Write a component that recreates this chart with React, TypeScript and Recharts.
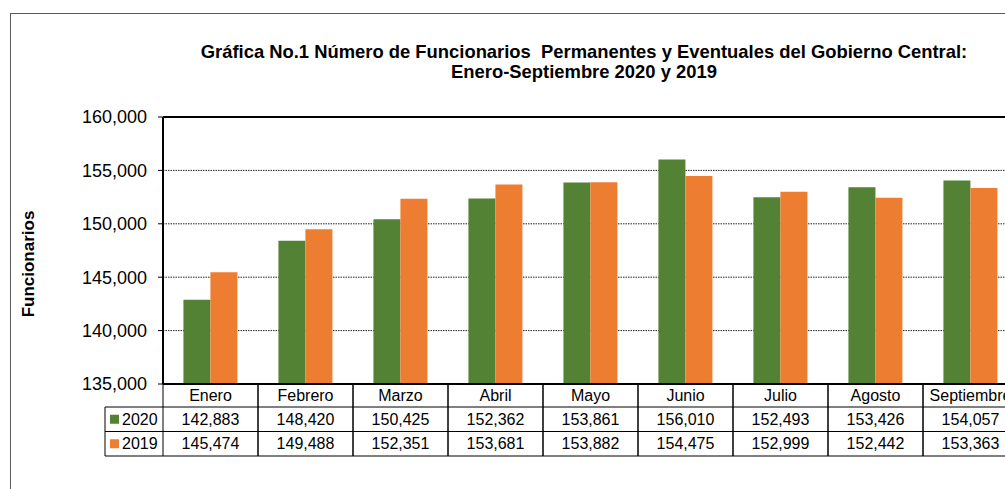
import { BarChart, Bar, XAxis, YAxis, CartesianGrid, ReferenceLine } from 'recharts';

const months = ['Enero', 'Febrero', 'Marzo', 'Abril', 'Mayo', 'Junio', 'Julio', 'Agosto', 'Septiembre'];
const values2020 = [142883, 148420, 150425, 152362, 153861, 156010, 152493, 153426, 154057];
const values2019 = [145474, 149488, 152351, 153681, 153882, 154475, 152999, 152442, 153363];
const yTicks = [135000, 140000, 145000, 150000, 155000, 160000];

const GREEN = '#548235';
const ORANGE = '#ED7D31';
const FONT = '"Liberation Sans", Arial, sans-serif';

const CHART_W = 1030;
const CHART_H = 489;
const Y_AXIS_W = 163;
const MARGIN = { top: 117, right: 12, bottom: 0, left: 0 };
const PLOT_W = CHART_W - MARGIN.left - MARGIN.right - Y_AXIS_W;

const data = months.map((m, i) => ({ month: m, y2020: values2020[i], y2019: values2019[i] }));

const fmt = (v: number) => v.toLocaleString('en-US');

function TableTick(props: any) {
  const { x, y, index } = props;
  const band = PLOT_W / months.length;
  const left = x - band / 2;
  const right = x + band / 2;
  const r0 = y;
  const r1 = r0 + 23;
  const r2 = r1 + 24.5;
  const r3 = r2 + 24.5;
  const line = { stroke: '#000', strokeWidth: 1 };
  const txt = { fontSize: 16, fill: '#000', fontFamily: FONT };
  const hdrLeft = left - 58;
  return (
    <g>
      {index === 0 && (
        <g>
          <line x1={hdrLeft} y1={r1} x2={left} y2={r1} {...line} />
          <line x1={hdrLeft} y1={r2} x2={left} y2={r2} {...line} />
          <line x1={hdrLeft} y1={r3} x2={left} y2={r3} {...line} />
          <line x1={hdrLeft} y1={r1} x2={hdrLeft} y2={r3} {...line} />
          <rect x={hdrLeft + 5} y={(r1 + r2) / 2 - 4.5} width={9} height={9} fill={GREEN} />
          <text x={hdrLeft + 17} y={(r1 + r2) / 2 + 5.7} {...txt}>2020</text>
          <rect x={hdrLeft + 5} y={(r2 + r3) / 2 - 4.5} width={9} height={9} fill={ORANGE} />
          <text x={hdrLeft + 17} y={(r2 + r3) / 2 + 5.7} {...txt}>2019</text>
        </g>
      )}
      <line x1={left} y1={r0} x2={left} y2={r3} {...line} />
      <line x1={right} y1={r0} x2={right} y2={r3} {...line} />
      <line x1={left} y1={r1} x2={right} y2={r1} {...line} />
      <line x1={left} y1={r2} x2={right} y2={r2} {...line} />
      <line x1={left} y1={r3} x2={right} y2={r3} {...line} />
      <text x={x} y={(r0 + r1) / 2 + 5.7} textAnchor="middle" {...txt}>{months[index]}</text>
      <text x={x} y={(r1 + r2) / 2 + 5.7} textAnchor="middle" {...txt}>{fmt(values2020[index])}</text>
      <text x={x} y={(r2 + r3) / 2 + 5.7} textAnchor="middle" {...txt}>{fmt(values2019[index])}</text>
    </g>
  );
}

export default function App() {
  return (
    <div style={{ position: 'fixed', left: 0, top: 0, width: 1005, height: 489, overflow: 'hidden', background: '#fff', fontFamily: FONT }}>
      <div style={{ position: 'absolute', left: 10, top: 13, width: 1100, height: 600, border: '1px solid #595959' }} />
      <div style={{ position: 'absolute', left: 134, top: 42, width: 900, textAlign: 'center', fontSize: 18.4, lineHeight: '20px', fontWeight: 'bold', whiteSpace: 'pre', color: '#000' }}>
        {'Gráfica No.1 Número de Funcionarios  Permanentes y Eventuales del Gobierno Central:\nEnero-Septiembre 2020 y 2019'}
      </div>
      <div style={{ position: 'absolute', left: 29, top: 264, transform: 'translate(-50%, -50%) rotate(-90deg)', fontSize: 17, fontWeight: 'bold', whiteSpace: 'nowrap', color: '#000' }}>
        Funcionarios
      </div>
      <div style={{ position: 'absolute', left: 0, top: 0 }}>
        <BarChart width={CHART_W} height={CHART_H} data={data} margin={MARGIN} barCategoryGap="21.5%" barGap={0}>
          <CartesianGrid horizontal vertical={false} stroke="#262626" strokeDasharray="1.5 1" />
          <XAxis
            dataKey="month"
            height={105}
            interval={0}
            axisLine={{ stroke: '#000', strokeWidth: 2 }}
            tickLine={false}
            tickSize={0}
            tickMargin={0}
            tick={<TableTick />}
          />
          <YAxis
            width={Y_AXIS_W}
            domain={[135000, 160000]}
            ticks={yTicks}
            allowDataOverflow
            tickFormatter={fmt}
            axisLine={{ stroke: '#000', strokeWidth: 2 }}
            tickLine={{ stroke: '#000' }}
            tickSize={5}
            tickMargin={11}
            tick={{ fontSize: 18, fill: '#000', fontFamily: FONT }}
          />
          <ReferenceLine y={160000} stroke="#000" strokeWidth={2} />
          <Bar dataKey="y2020" fill={GREEN} isAnimationActive={false} />
          <Bar dataKey="y2019" fill={ORANGE} isAnimationActive={false} />
        </BarChart>
      </div>
    </div>
  );
}
